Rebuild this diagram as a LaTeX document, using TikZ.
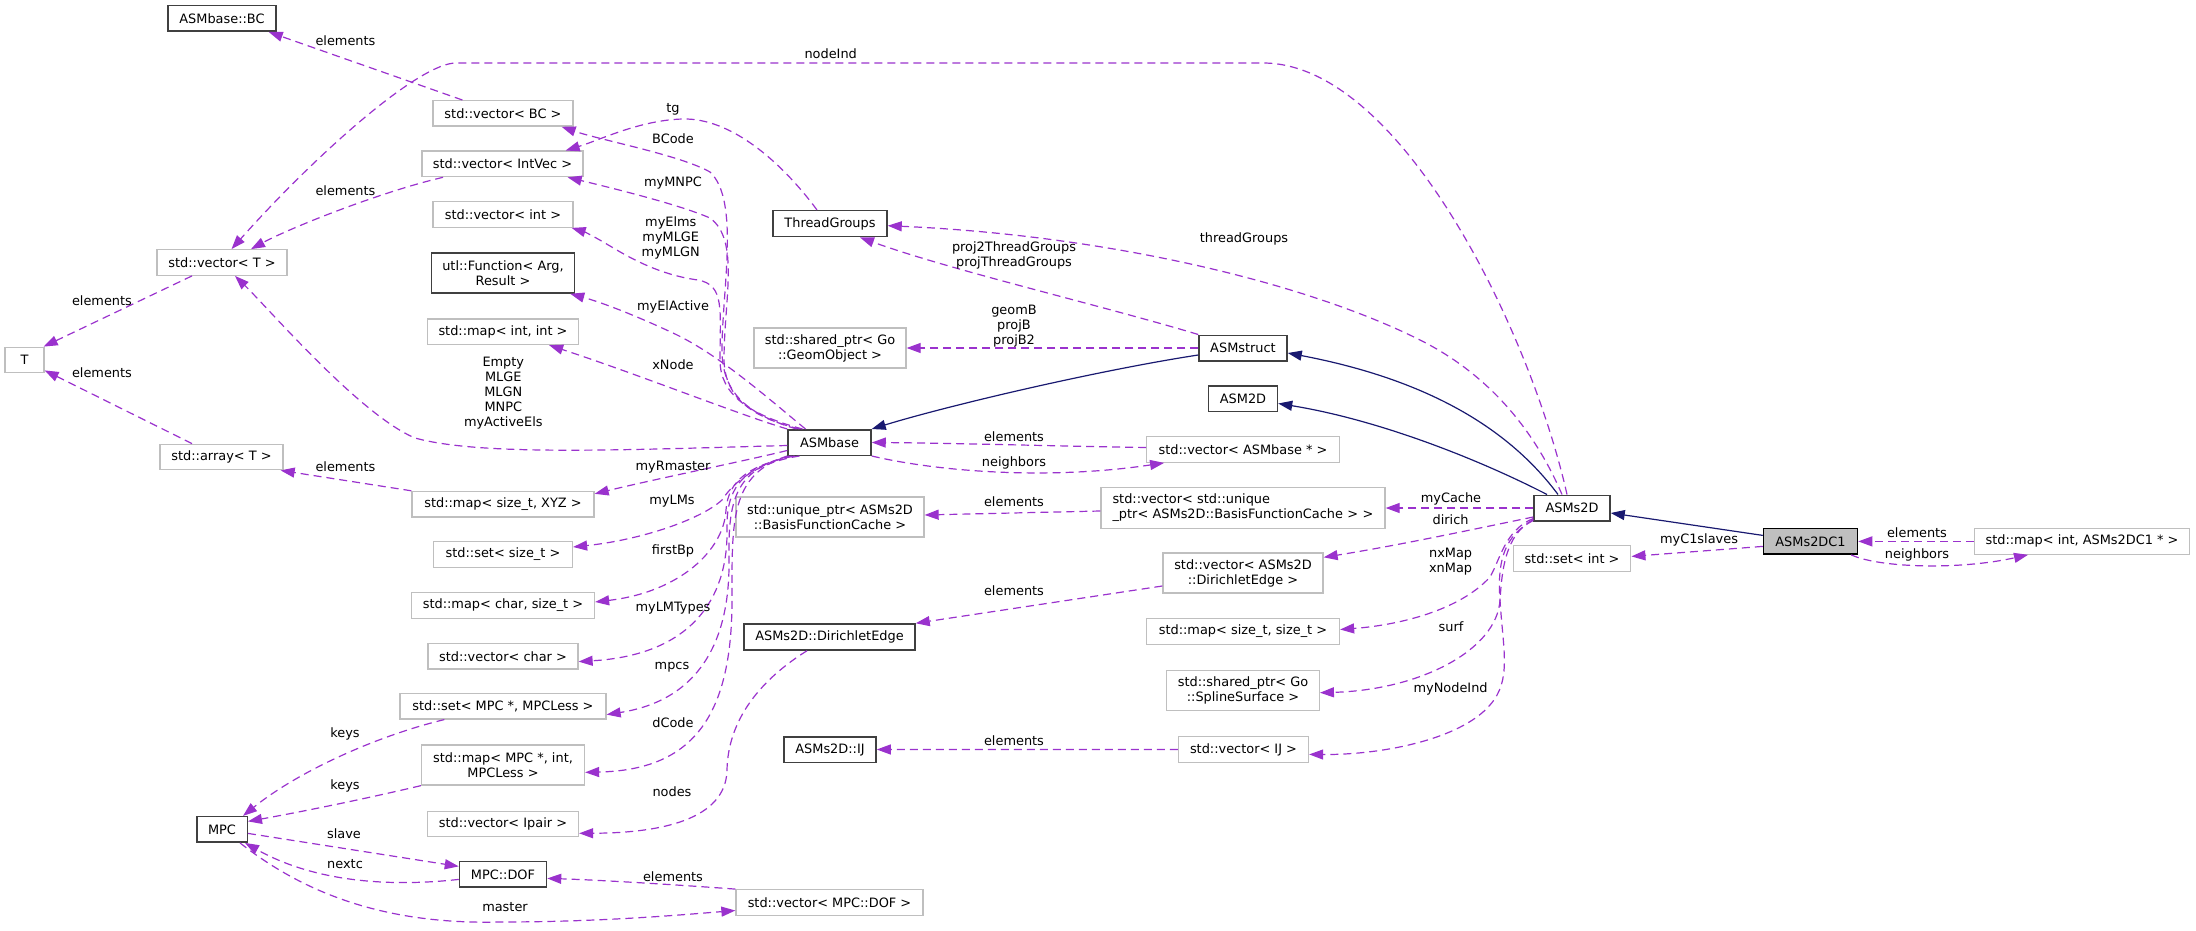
\documentclass[tikz,border=0pt]{standalone}
\usepackage{fontspec}
\newfontfamily\djfont{DejaVu Sans}
\usetikzlibrary{arrows.meta}
\definecolor{purp}{RGB}{154,50,205}
\definecolor{navyc}{RGB}{25,25,112}
\definecolor{greyl}{RGB}{191,191,191}
\definecolor{boxd}{RGB}{64,64,64}
\begin{document}
\begin{tikzpicture}[x=1pt,y=-1pt,
  box/.style={draw=boxd, line width=1.5pt, fill=white, inner sep=0pt, align=center,
    font={\djfont\fontsize{12.9}{15}\selectfont}},
  ext/.style={box, draw=greyl, line width=1.3pt},
  cur/.style={box, fill=greyl, draw=black},
  lbl/.style={inner sep=0pt, align=center, font={\djfont\fontsize{12.9}{15}\selectfont}},
  mem/.style={draw=purp, line width=1.2pt, dash pattern=on 8pt off 5pt,
    -{Triangle[length=14pt,width=10pt]}},
  inh/.style={draw=navyc, line width=1.2pt, -{Triangle[length=14pt,width=10pt]}}]
\useasboundingbox (0,0) rectangle (2196,931);
% nodes
\node[box, minimum width=108pt, minimum height=25.5pt] (BC) at (222,18.5) {ASMbase::BC};
\node[ext, minimum width=140pt, minimum height=25.5pt] (vBC) at (503,113.4) {std::vector< BC >};
\node[ext, minimum width=161pt, minimum height=25.5pt] (vIntVec) at (502.5,163.9) {std::vector< IntVec >};
\node[ext, minimum width=140pt, minimum height=25.5pt] (vInt) at (503,214.5) {std::vector< int >};
\node[box, minimum width=143pt, minimum height=40pt] (utlF) at (503,273) {utl::Function< Arg,\\ Result >};
\node[ext, minimum width=151pt, minimum height=25.5pt] (mapII) at (503,331.8) {std::map< int, int >};
\node[ext, minimum width=130pt, minimum height=25.5pt] (vT) at (222,262.5) {std::vector< T >};
\node[ext, minimum width=39pt, minimum height=25.5pt] (T) at (24.5,360) {T};
\node[ext, minimum width=123pt, minimum height=25.5pt] (arrT) at (221.5,457) {std::array< T >};
\node[ext, minimum width=182pt, minimum height=25.5pt] (mapXYZ) at (503,504.2) {std::map< size\_t, XYZ >};
\node[ext, minimum width=139pt, minimum height=25.5pt] (setSz) at (503,554.4) {std::set< size\_t >};
\node[ext, minimum width=183pt, minimum height=25.5pt] (mapChar) at (503,605.4) {std::map< char, size\_t >};
\node[ext, minimum width=150pt, minimum height=25.5pt] (vChar) at (503,656.2) {std::vector< char >};
\node[ext, minimum width=206pt, minimum height=25.5pt] (setMPC) at (503,706.2) {std::set< MPC *, MPCLess >};
\node[ext, minimum width=163pt, minimum height=40pt] (mapMPC) at (503,765) {std::map< MPC *, int,\\ MPCLess >};
\node[ext, minimum width=151pt, minimum height=25.5pt] (vIpair) at (503,823.9) {std::vector< Ipair >};
\node[box, minimum width=50.5pt, minimum height=25.5pt] (MPC) at (222,829.4) {MPC};
\node[box, minimum width=87pt, minimum height=25.5pt] (DOF) at (503,874.4) {MPC::DOF};
\node[ext, minimum width=187pt, minimum height=25.5pt] (vDOF) at (829.5,902.5) {std::vector< MPC::DOF >};
\node[box, minimum width=114pt, minimum height=26pt] (TG) at (830,223.7) {ThreadGroups};
\node[ext, minimum width=152pt, minimum height=40pt] (geo) at (830,348) {std::shared\_ptr< Go\\ ::GeomObject >};
\node[box, minimum width=83pt, minimum height=25.5pt] (ASMbase) at (829.5,442.5) {ASMbase};
\node[ext, minimum width=188pt, minimum height=40pt] (uBFC) at (830,517) {std::unique\_ptr< ASMs2D\\ ::BasisFunctionCache >};
\node[box, minimum width=171pt, minimum height=26pt] (DE) at (829.5,637) {ASMs2D::DirichletEdge};
\node[box, minimum width=92pt, minimum height=25.5pt] (IJ) at (830,749.5) {ASMs2D::IJ};
\node[box, minimum width=88pt, minimum height=25.5pt] (ASMstruct) at (1243,348) {ASMstruct};
\node[box, minimum width=69pt, minimum height=25.5pt] (ASM2D) at (1243,398.5) {ASM2D};
\node[ext, minimum width=192.5pt, minimum height=25.5pt] (vASMb) at (1243,449.5) {std::vector< ASMbase * >};
\node[ext, text width=261pt, inner xsep=11.5pt, align=left, minimum height=40.6pt] (vUBFC) at (1243,508) {std::vector< std::unique\\ \_ptr< ASMs2D::BasisFunctionCache > >};
\node[ext, minimum width=160pt, minimum height=40pt] (vDE) at (1243,573) {std::vector< ASMs2D\\ ::DirichletEdge >};
\node[ext, minimum width=193pt, minimum height=25.5pt] (mapSS) at (1243,631.5) {std::map< size\_t, size\_t >};
\node[ext, minimum width=152.6pt, minimum height=40pt] (spSS) at (1243,690.7) {std::shared\_ptr< Go\\ ::SplineSurface >};
\node[ext, minimum width=130pt, minimum height=25.5pt] (vIJ) at (1243.5,749.4) {std::vector< IJ >};
\node[box, minimum width=76pt, minimum height=25.5pt] (ASMs2D) at (1572,508) {ASMs2D};
\node[ext, minimum width=117.6pt, minimum height=25.5pt] (setInt) at (1572,558.4) {std::set< int >};
\node[cur, minimum width=94pt, minimum height=25.5pt] (C1) at (1810.5,541.4) {ASMs2DC1};
\node[ext, minimum width=215.5pt, minimum height=25.5pt] (mapC1) at (2082,541.4) {std::map< int, ASMs2DC1 * >};
% inheritance
\draw[inh] ([yshift=-7pt]ASMstruct.west) .. controls (1100,370) and (950,405) .. (ASMbase.north east);
\draw[inh] ([xshift=-14pt]ASMs2D.north) .. controls (1510,430) and (1430,380) .. ([yshift=-5pt]ASMstruct.east);
\draw[inh] ([xshift=-25pt]ASMs2D.north) .. controls (1480,460) and (1380,420) .. ([yshift=-5pt]ASM2D.east);
\draw[inh] ([yshift=6pt]C1.west) -- ([yshift=-5pt]ASMs2D.east);
% members
\draw[mem] ([xshift=30pt]vBC.north west) -- ([xshift=-8pt]BC.south east);
\draw[mem] ([xshift=-5pt]ASMs2D.north) .. controls (1530,330) and (1400,63) .. (1263,63) -- (456,63) .. controls (420,63) and (320,150) .. ([xshift=9.5pt]vT.north);
\draw[mem] ([xshift=21.7pt]vIntVec.south west) .. controls (380,192) and (290,228) .. ([xshift=29pt]vT.north);
\draw[mem] ([xshift=-30pt]vT.south) -- ([xshift=-1pt]T.north east);
\draw[mem] ([xshift=-29.5pt]arrT.north) -- ([yshift=3pt]T.south east);
\draw[mem] ([yshift=-3pt]ASMbase.west) .. controls (620,450) and (480,456) .. (415,438) .. controls (360,415) and (270,310) .. ([xshift=13pt]vT.south);
\draw[mem] (mapXYZ.north west) -- ([xshift=-3pt]arrT.south east);
\draw[mem] ([xshift=-33pt]ASMbase.north) .. controls (750,415) and (722,395) .. (722,350) .. controls (722,290) and (740,200) .. (710,172) .. controls (680,155) and (600,140) .. ([xshift=-12pt]vBC.south east);
\draw[mem] ([xshift=-13pt]TG.north) .. controls (780,160) and (730,118) .. (683,119) .. controls (640,120) and (600,140) .. ([xshift=-18pt]vIntVec.north east);
\draw[mem] ([xshift=-30pt]ASMbase.north) .. controls (755,418) and (725,400) .. (724,360) .. controls (724,300) and (740,240) .. (710,218) .. controls (680,205) and (620,190) .. ([xshift=-16pt]vIntVec.south east);
\draw[mem] ([xshift=-27pt]ASMbase.north) .. controls (750,415) and (720,395) .. (720,360) .. controls (720,310) and (725,285) .. (698,280) .. controls (660,275) and (630,258) .. (610,246) .. controls (595,237) and (585,232) .. ([xshift=-2pt]vInt.south east);
\draw[mem] ([xshift=-24pt]ASMbase.north) .. controls (770,400) and (720,355) .. (673,333) .. controls (630,313) and (600,302) .. ([xshift=-5pt]utlF.south east);
\draw[mem] (ASMbase.north west) .. controls (740,415) and (640,375) .. ([xshift=-30pt]mapII.south east);
\draw[mem] ([yshift=-8pt]ASMbase.west) .. controls (740,462) and (660,478) .. ([yshift=-3pt]mapXYZ.north east);
\draw[mem] ([xshift=-30pt]ASMbase.south) .. controls (760,462) and (735,480) .. (722,500) .. controls (700,520) and (640,540) .. ([yshift=-6pt]setSz.north east);
\draw[mem] ([xshift=-35pt]ASMbase.south) .. controls (750,465) and (728,480) .. (726,510) .. controls (724,550) and (680,592) .. ([yshift=-10pt]mapChar.north east);
\draw[mem] ([xshift=-38pt]ASMbase.south) .. controls (740,468) and (726,490) .. (727,530) .. controls (728,600) and (690,655) .. ([yshift=8pt]vChar.south east);
\draw[mem] ([xshift=-40pt]ASMbase.south) .. controls (735,470) and (728,500) .. (729,560) .. controls (730,640) and (700,700) .. ([yshift=5pt]setMPC.south east);
\draw[mem] (ASMbase.south west) .. controls (730,475) and (732,520) .. (732,600) .. controls (732,720) and (690,770) .. ([yshift=-28pt]mapMPC.north east);
\draw[mem] ([xshift=-22.5pt]DE.south) .. controls (760,680) and (728,720) .. (727,770) .. controls (726,820) and (660,833) .. ([yshift=4pt]vIpair.south east);
\draw[mem] ([xshift=45pt]setMPC.south west) .. controls (380,735) and (300,770) .. ([xshift=-5pt]MPC.north east);
\draw[mem] (mapMPC.south west) .. controls (360,800) and (300,812) .. ([yshift=8pt]MPC.east);
\draw[mem] ([yshift=-4pt]MPC.east) -- ([yshift=8pt]DOF.west);
\draw[mem] ([yshift=-5pt]DOF.west) .. controls (400,886) and (320,885) .. ([xshift=-3pt]MPC.south east);
\draw[mem] (vDOF.north west) .. controls (680,885) and (600,880) .. ([yshift=-4pt]DOF.east);
\draw[mem] ([xshift=-8pt]MPC.south east) .. controls (300,890) and (380,925) .. (500,922) .. controls (600,922) and (680,915) .. ([yshift=-8pt]vDOF.west);
\draw[mem] ([xshift=-10pt]ASMs2D.north) .. controls (1530,420) and (1480,370) .. (1420,340) .. controls (1300,280) and (1100,235) .. ([yshift=-2pt]TG.east);
\draw[mem] (ASMstruct.north west) .. controls (1100,305) and (950,270) .. ([xshift=30pt]TG.south);
\draw[mem] (ASMstruct.west) -- (geo.east);
\draw[mem] ([yshift=2pt]vASMb.west) .. controls (1050,446) and (950,443) .. (ASMbase.east);
\draw[mem] (ASMbase.south east) .. controls (940,472) and (1050,480) .. ([xshift=18pt]vASMb.south west);
\draw[mem] ([yshift=-3pt]vUBFC.west) -- ([yshift=2pt]uBFC.east);
\draw[mem] (ASMs2D.west) -- (vUBFC.east);
\draw[mem] ([yshift=-9pt]ASMs2D.west) .. controls (1470,530) and (1400,545) .. ([yshift=-5pt]vDE.north east);
\draw[mem] ([yshift=-13pt]vDE.west) -- (DE.north east);
\draw[mem] ([yshift=3pt]ASMs2D.south west) .. controls (1505,530) and (1500,560) .. (1490,577) .. controls (1460,610) and (1400,625) .. ([yshift=2pt]mapSS.east);
\draw[mem] ([yshift=2pt]ASMs2D.south west) .. controls (1505,535) and (1502,570) .. (1500,600) .. controls (1497,650) and (1420,690) .. ([yshift=-2pt]spSS.east);
\draw[mem] ([yshift=1pt]ASMs2D.south west) .. controls (1505,535) and (1497,560) .. (1500,600) .. controls (1503,650) and (1512,680) .. (1490,705) .. controls (1460,740) and (1380,755) .. ([yshift=-5pt]vIJ.east);
\draw[mem] (vIJ.west) -- (IJ.east);
\draw[mem] ([yshift=-5pt]C1.west) -- ([yshift=2pt]setInt.east);
\draw[mem] (mapC1.west) -- (C1.east);
\draw[mem] ([xshift=-7pt]C1.south east) .. controls (1880,568) and (1960,570) .. ([xshift=-54pt]mapC1.south);
% labels
\node[lbl] (l1) at (345.5,40.3) {elements};
\node[lbl] (l2) at (830.7,54) {nodeInd};
\node[lbl] (l3) at (345.5,190.7) {elements};
\node[lbl] (l4) at (102,300.3) {elements};
\node[lbl] (l5) at (102,372.3) {elements};
\node[lbl] (l6) at (503.3,393) {Empty\\MLGE\\MLGN\\MNPC\\myActiveEls};
\node[lbl] (l7) at (345.5,467) {elements};
\node[lbl] (l8) at (673,138.3) {BCode};
\node[lbl] (l9) at (673,109) {tg};
\node[lbl] (l10) at (673,183.3) {myMNPC};
\node[lbl] (l11) at (670.8,238.3) {myElms\\myMLGE\\myMLGN};
\node[lbl] (l12) at (673,307.3) {myElActive};
\node[lbl] (l13) at (673,364.3) {xNode};
\node[lbl] (l14) at (673,467) {myRmaster};
\node[lbl] (l15) at (672,500.7) {myLMs};
\node[lbl] (l16) at (673,551) {firstBp};
\node[lbl] (l17) at (673,608) {myLMTypes};
\node[lbl] (l18) at (672,667) {mpcs};
\node[lbl] (l19) at (673,723) {dCode};
\node[lbl] (l20) at (672,792) {nodes};
\node[lbl] (l21) at (345,734) {keys};
\node[lbl] (l22) at (345,786) {keys};
\node[lbl] (l23) at (344,834) {slave};
\node[lbl] (l24) at (345,864) {nextc};
\node[lbl] (l25) at (673,877) {elements};
\node[lbl] (l26) at (505,907) {master};
\node[lbl] (l27) at (1244,239) {threadGroups};
\node[lbl] (l28) at (1014,255.5) {proj2ThreadGroups\\projThreadGroups};
\node[lbl] (l29) at (1014,325.7) {geomB\\projB\\projB2};
\node[lbl] (l30) at (1014,436.7) {elements};
\node[lbl] (l31) at (1014,462.7) {neighbors};
\node[lbl] (l32) at (1014,502) {elements};
\node[lbl] (l33) at (1451,499.3) {myCache};
\node[lbl] (l34) at (1450.6,519.3) {dirich};
\node[lbl] (l35) at (1014,590.7) {elements};
\node[lbl] (l36) at (1450.6,562) {nxMap\\xnMap};
\node[lbl] (l37) at (1451,627) {surf};
\node[lbl] (l38) at (1450.6,688.7) {myNodeInd};
\node[lbl] (l39) at (1014,740.7) {elements};
\node[lbl] (l40) at (1699,540.3) {myC1slaves};
\node[lbl] (l41) at (1917,532.3) {elements};
\node[lbl] (l42) at (1917,554.7) {neighbors};
\end{tikzpicture}
\end{document}
